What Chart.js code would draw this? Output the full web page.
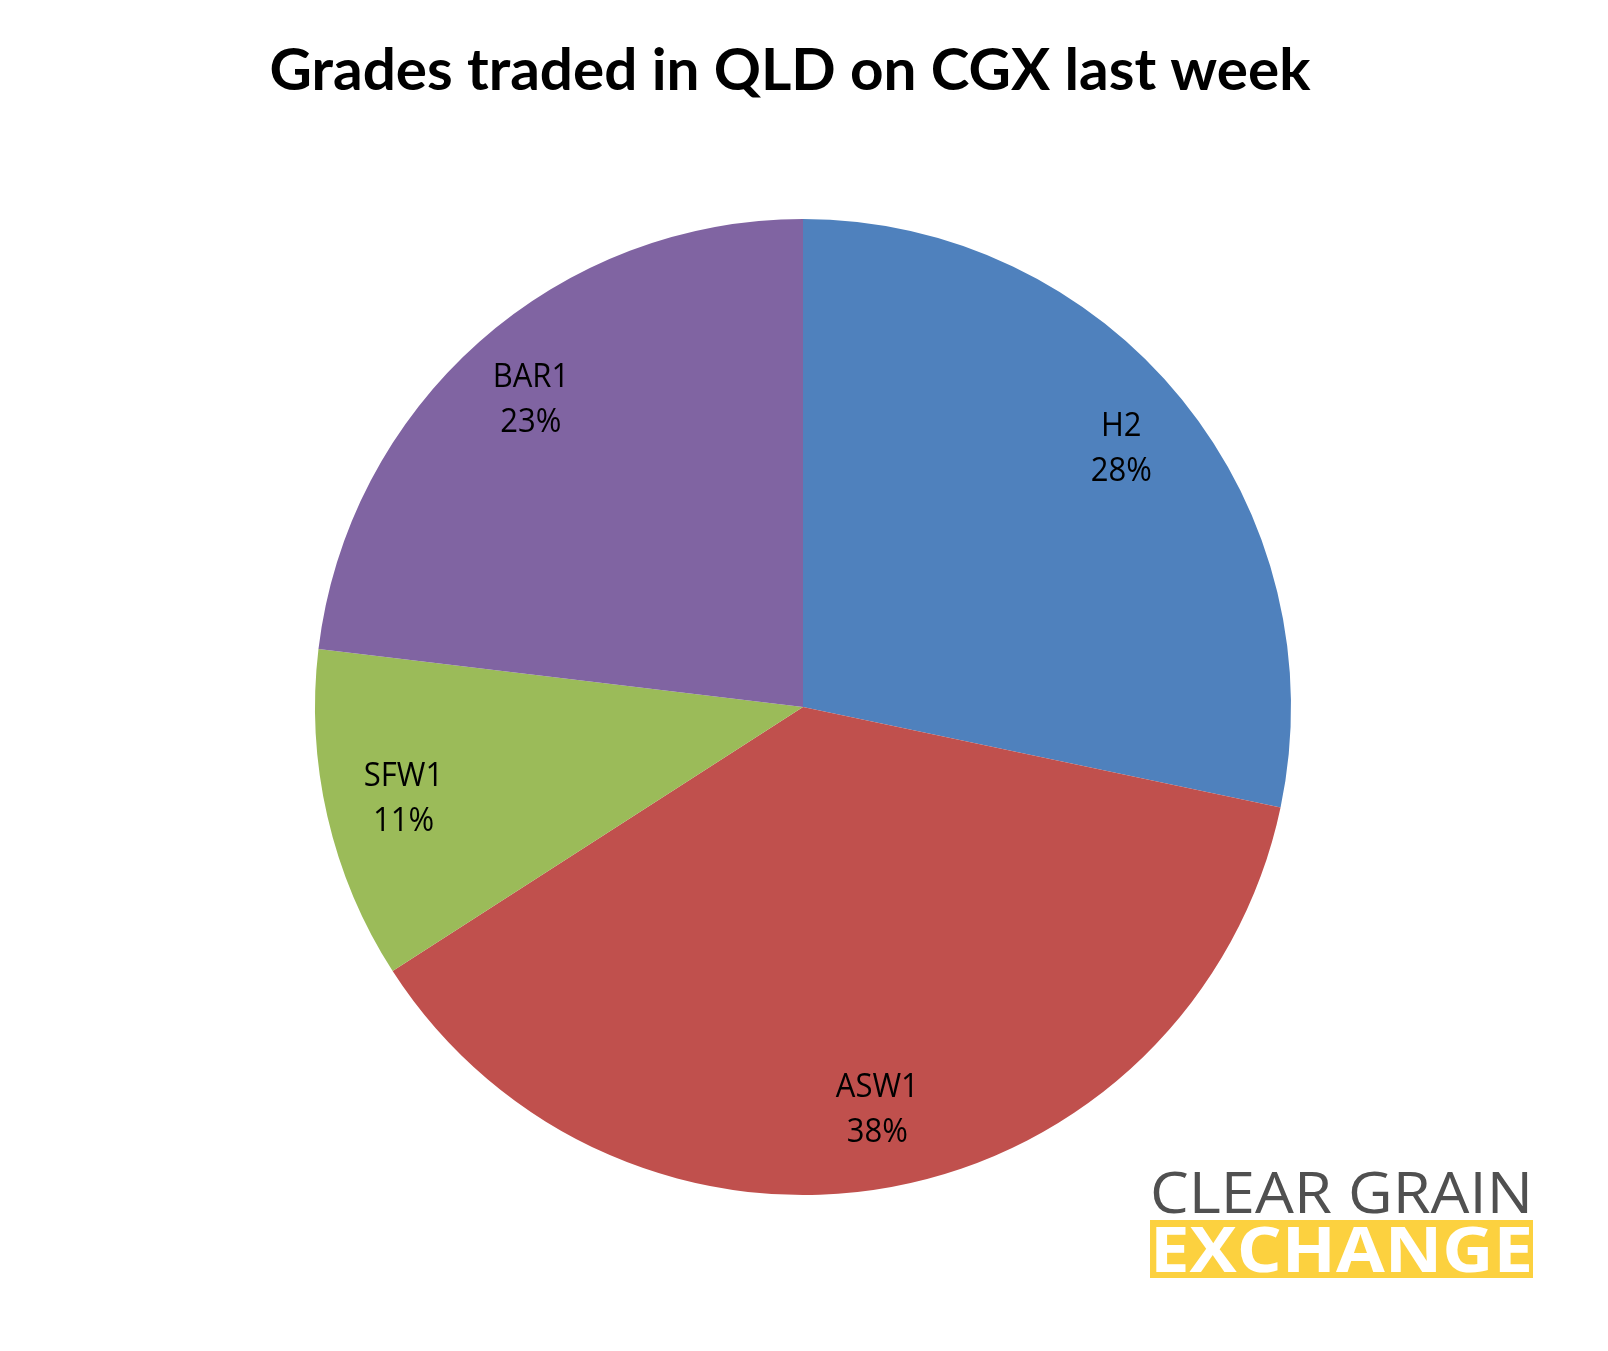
<!DOCTYPE html>
<html>
<head>
<meta charset="utf-8">
<title>Grades traded in QLD on CGX last week</title>
<script src="https://cdn.jsdelivr.net/npm/chart.js@4/dist/chart.umd.min.js"></script>
<style>
  body { margin: 0; background: #fff; }
  canvas { display: block; }
</style>
</head>
<body>
<canvas id="pieChart" width="1608" height="1351"></canvas>
<script>
// grades and their share of trades (percent)
const grades = ["H2", "ASW1", "SFW1", "BAR1"];
const shares = [28.3, 37.6, 11.0, 23.1];
const sliceColors = ["#4F81BD", "#C0504D", "#9BBB59", "#8064A2"];

const titleText = "Grades traded in QLD on CGX last week";

// labels inside the slices: name + rounded percent
const sliceLabels = {
    id: "sliceLabels",
    afterDatasetsDraw(chart) {
        const ctx = chart.ctx;
        const total = shares.reduce((a, b) => a + b, 0);
        const meta = chart.getDatasetMeta(0);
        ctx.save();
        ctx.fillStyle = "#000";
        ctx.font = "32px 'Open Sans'";
        ctx.textAlign = "center";
        ctx.textBaseline = "middle";
        meta.data.forEach((arc, i) => {
            const mid = (arc.startAngle + arc.endAngle) / 2;
            const r = arc.outerRadius * 0.84;
            const x = arc.x + Math.cos(mid) * r;
            const y = arc.y + Math.sin(mid) * r;
            const pct = Math.round(shares[i] / total * 100) + "%";
            ctx.save();
            ctx.translate(x, y);
            ctx.scale(0.97, 1);
            ctx.fillText(grades[i], 0, -22);
            ctx.fillText(pct, 0, 23);
            ctx.restore();
        });
        ctx.restore();
    },
};

// title and logo
const decorations = {
    id: "decorations",
    afterDraw(chart) {
        const ctx = chart.ctx;
        ctx.save();
        ctx.fillStyle = "#000";
        ctx.font = "bold 58px Lato";
        ctx.textAlign = "center";
        ctx.textBaseline = "alphabetic";
        fitText(ctx, titleText, 790, 90, 1041);

        // logo: CLEAR GRAIN / EXCHANGE
        ctx.fillStyle = "#505050";
        ctx.font = "57px 'Open Sans'";
        ctx.textAlign = "left";
        fitText(ctx, "CLEAR GRAIN", 1150, 1213, 383);

        ctx.fillStyle = "#FCD13F";
        ctx.fillRect(1150, 1220, 383, 58);
        ctx.fillStyle = "#fff";
        ctx.font = "bold 62px 'Open Sans'";
        fitText(ctx, "EXCHANGE", 1150, 1272, 383);
        ctx.restore();
    },
};

function fitText(ctx, text, x, y, width) {
    const w = ctx.measureText(text).width;
    const sx = width / w;
    ctx.save();
    ctx.translate(x, y);
    ctx.scale(sx, 1);
    ctx.fillText(text, 0, 0);
    ctx.restore();
}

const pieChart = document.querySelector('#pieChart');
const graph = new Chart(pieChart, {
    type: "pie",
    data: {
        labels: grades,
        datasets: [
            {
                data: shares,
                backgroundColor: sliceColors,
                borderWidth: 0,
            },
        ],
    },
    options: {
        responsive: false,
        animation: false,
        layout: {
            padding: { top: 219, bottom: 156, left: 315, right: 317 },
        },
        plugins: {
            legend: { display: false },
            tooltip: { enabled: false },
        },
    },
    plugins: [sliceLabels, decorations],
});
</script>
</body>
</html>
